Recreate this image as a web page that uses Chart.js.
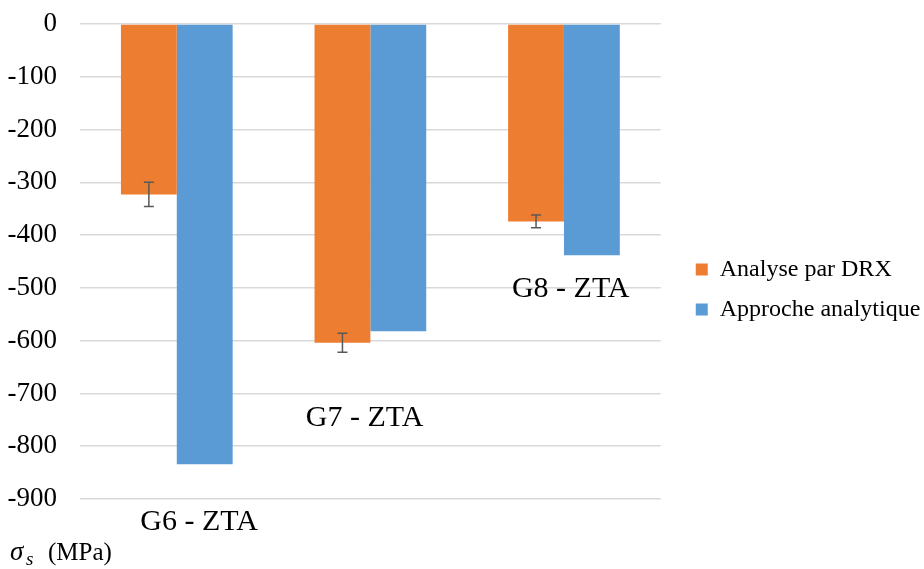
<!DOCTYPE html>
<html>
<head>
<meta charset="utf-8">
<script src="https://cdn.jsdelivr.net/npm/chart.js@4"></script>
<style>
  body { margin: 0; background: #fff; }
  #wrap { width: 924px; height: 569px; }
</style>
</head>
<body>
<div id="wrap"><canvas id="chart"></canvas></div>
<script>
const categories = ['G6 - ZTA', 'G7 - ZTA', 'G8 - ZTA'];
const drxValues = [-323, -604, -374];
const drxErrors = [23, 18, 12];
const analyticValues = [-834, -582, -438];
// value at which each category name sits inside the plot
const labelValues = [-944, -747, -503];

const serif = '"Liberation Serif", "Times New Roman", serif';

const errorBars = {
    id: 'errorBars',
    afterDatasetsDraw(chart) {
        const { ctx, scales: { y } } = chart;
        const meta = chart.getDatasetMeta(0);
        ctx.save();
        ctx.strokeStyle = '#595959';
        ctx.lineWidth = 1.5;
        meta.data.forEach((bar, i) => {
            const top = y.getPixelForValue(drxValues[i] + drxErrors[i]);
            const bot = y.getPixelForValue(drxValues[i] - drxErrors[i]);
            ctx.beginPath();
            ctx.moveTo(bar.x, top); ctx.lineTo(bar.x, bot);
            ctx.moveTo(bar.x - 5, top); ctx.lineTo(bar.x + 5, top);
            ctx.moveTo(bar.x - 5, bot); ctx.lineTo(bar.x + 5, bot);
            ctx.stroke();
        });
        ctx.restore();
    }
};

const textLabels = {
    id: 'textLabels',
    afterLayout(chart) {
        // legend sits a bit lower and closer to the plot in the original
        const lg = chart.legend;
        const dy = 28;
        lg.top += dy;
        lg.bottom += dy;
        lg.left = chart.chartArea.right + 19;
        lg.width = chart.width - lg.left;
        lg.right = chart.width;
    },
    afterDraw(chart) {
        const { ctx, scales: { x, y } } = chart;
        const shift = [0.115, -0.03, 0.035];
        ctx.save();
        ctx.fillStyle = '#000';
        ctx.font = `30px ${serif}`;
        ctx.textAlign = 'center';
        ctx.textBaseline = 'middle';
        categories.forEach((c, i) => {
            ctx.fillText(c, x.getPixelForValue(i + shift[i]), y.getPixelForValue(labelValues[i]));
        });
        // unit label bottom-left
        ctx.textAlign = 'left';
        ctx.textBaseline = 'alphabetic';
        ctx.font = `italic 27px ${serif}`;
        ctx.fillText('σ', 10, 560);
        ctx.font = `italic 19px ${serif}`;
        ctx.fillText('s', 26, 565);
        ctx.font = `25px ${serif}`;
        ctx.fillText('(MPa)', 48, 560);
        ctx.restore();
    }
};

new Chart(document.getElementById('chart'), {
    type: 'bar',
    data: {
        labels: categories,
        datasets: [
            { label: 'Analyse par DRX', data: drxValues, backgroundColor: '#ED7D31' },
            { label: 'Approche analytique', data: analyticValues, backgroundColor: '#5B9BD5' }
        ]
    },
    options: {
        responsive: true,
        maintainAspectRatio: false,
        animation: false,
        categoryPercentage: 0.577,
        barPercentage: 1,
        layout: { padding: { top: 24, bottom: 70, left: 0, right: 43 } },
        scales: {
            x: { display: false },
            y: {
                min: -900,
                max: 0,
                afterFit(scale) {
                    scale.width = 80;
                    scale.paddingTop = 0;
                    scale.paddingBottom = 0;
                },
                ticks: { stepSize: 100, color: '#000', padding: 23, font: { family: serif, size: 27 } },
                grid: { color: '#d9d9d9', lineWidth: 1.5, drawTicks: false },
                border: { display: false }
            }
        },
        plugins: {
            legend: {
                position: 'right',
                labels: {
                    color: '#000',
                    boxWidth: 12,
                    boxHeight: 12,
                    padding: 16,
                    font: { family: serif, size: 24 }
                }
            },
            tooltip: { enabled: false }
        }
    },
    plugins: [errorBars, textLabels]
});
</script>
</body>
</html>
